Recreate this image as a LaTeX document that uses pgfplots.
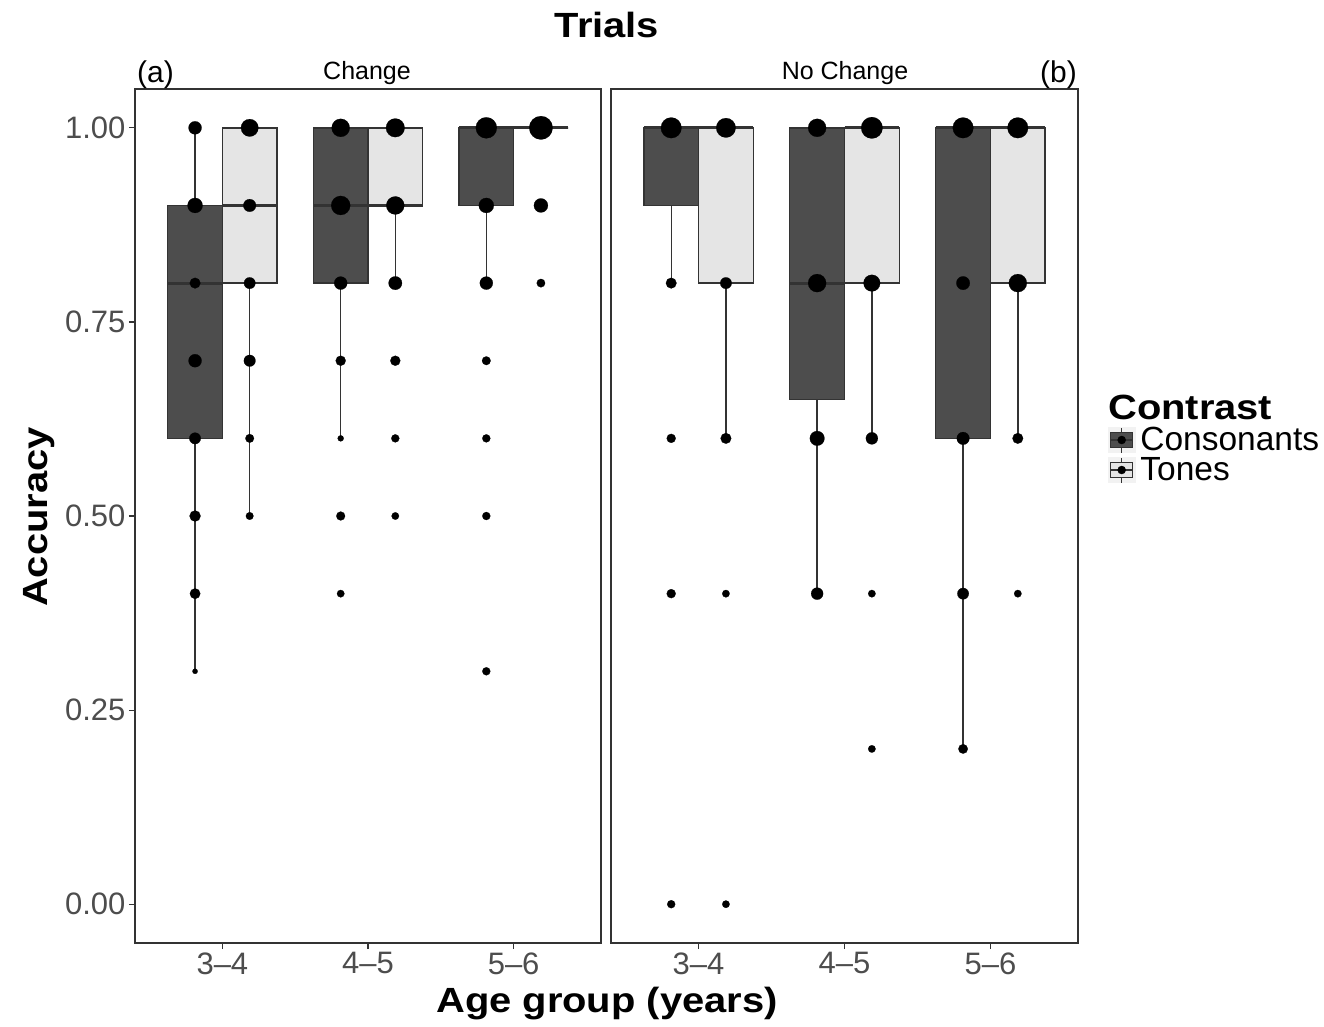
\documentclass[border=0pt]{standalone}
\usepackage{fontspec}
\setmainfont{Liberation Sans}
\newfontfamily\bt[FakeStretch=1.14]{Liberation Sans}
\usepackage{pgfplots}
\usepackage{pgfplotstable}
\usepgfplotslibrary{statistics}
\pgfplotsset{compat=1.18}

\definecolor{darkfill}{HTML}{4D4D4D}
\definecolor{lightfill}{HTML}{E5E5E5}
\definecolor{boxline}{HTML}{333333}
\definecolor{ticklab}{HTML}{4D4D4D}
\definecolor{keybg}{HTML}{F2F2F2}
\newcommand\fs[1]{\fontsize{#1bp}{#1bp}\selectfont}

% points: x position (dodged), accuracy, radius in bp (size ~ count)
\pgfplotstableread{
x y r
0.8125 1.0 6.5
0.8125 0.9 7.5
0.8125 0.8 5.3
0.8125 0.7 6.5
0.8125 0.6 5.7
0.8125 0.5 5.5
0.8125 0.4 5.2
0.8125 0.3 2.6
1.1875 1.0 8.7
1.1875 0.9 6.3
1.1875 0.8 5.7
1.1875 0.7 5.8
1.1875 0.6 4.3
1.1875 0.5 3.8
1.8125 1.0 9.0
1.8125 0.9 9.5
1.8125 0.8 6.5
1.8125 0.7 5.0
1.8125 0.6 3.0
1.8125 0.5 4.4
1.8125 0.4 3.7
2.1875 1.0 9.3
2.1875 0.9 9.0
2.1875 0.8 6.7
2.1875 0.7 5.0
2.1875 0.6 4.0
2.1875 0.5 3.7
2.8125 1.0 10.5
2.8125 0.9 7.5
2.8125 0.8 6.5
2.8125 0.7 4.3
2.8125 0.6 4.0
2.8125 0.5 4.0
2.8125 0.3 4.0
3.1875 1.0 11.7
3.1875 0.9 7.0
3.1875 0.8 4.2
}\ptsChange

\pgfplotstableread{
x y r
0.8125 1.0 10.3
0.8125 0.8 5.3
0.8125 0.6 4.5
0.8125 0.4 4.5
0.8125 0.0 4.0
1.1875 1.0 9.7
1.1875 0.8 5.7
1.1875 0.6 5.3
1.1875 0.4 3.7
1.1875 0.0 3.7
1.8125 1.0 9.0
1.8125 0.8 9.0
1.8125 0.6 7.3
1.8125 0.4 6.0
2.1875 1.0 10.7
2.1875 0.8 8.3
2.1875 0.6 6.0
2.1875 0.4 3.7
2.1875 0.2 3.7
2.8125 1.0 10.3
2.8125 0.8 6.7
2.8125 0.6 6.3
2.8125 0.4 5.7
2.8125 0.2 4.7
3.1875 1.0 10.3
3.1875 0.8 9.0
3.1875 0.6 5.3
3.1875 0.4 3.7
}\ptsNoChange

\pgfplotsset{
  panel/.style={scale only axis, width=466bp, height=854bp, anchor=south west,
    xmin=0.4, xmax=3.6, ymin=-0.05, ymax=1.05,
    xtick={1,2,3}, xticklabels={3–4,4–5,5–6}, xtick pos=bottom,
    tick align=outside, major tick length=6bp,
    tick style={draw=boxline, line width=1.2bp},
    axis line style={draw=boxline, line width=1.3bp},
    tick label style={font=\fs{31}, text=ticklab},
    boxplot/draw direction=y,
    /pgf/number format/assume math mode=true},
  cbox/.style={forget plot, draw=boxline, line width=1.4bp,
    boxplot/every box/.style={fill=darkfill},
    boxplot/every median/.style={line width=3bp}},
  tbox/.style={forget plot, draw=boxline, line width=1.4bp,
    boxplot/every box/.style={fill=lightfill},
    boxplot/every median/.style={line width=3bp}},
  pts/.style={forget plot, scatter, only marks, mark=*, point meta=\thisrow{r},
    scatter/use mapped color={draw=black, fill=black},
    every mark/.append style={line width=0.2bp},
    visualization depends on={\thisrow{r}\as\rad},
    scatter/@pre marker code/.append style={/tikz/mark size=\rad bp}},
}

\begin{document}
\begin{tikzpicture}
\path[use as bounding box] (0bp,0bp) rectangle (1324bp,-1027bp);

\begin{axis}[panel, at={(135bp,-943bp)},
  ytick={0,0.25,0.5,0.75,1}, ytick pos=left,
  yticklabel style={/pgf/number format/.cd, fixed, fixed zerofill, precision=2}]
\addplot[cbox, boxplot prepared={draw position=0.8125, box extend=0.375, whisker extend=0,
  lower whisker=0.3, lower quartile=0.6, median=0.8, upper quartile=0.9, upper whisker=1}] coordinates {};
\addplot[tbox, boxplot prepared={draw position=1.1875, box extend=0.375, whisker extend=0,
  lower whisker=0.5, lower quartile=0.8, median=0.9, upper quartile=1, upper whisker=1}] coordinates {};
\addplot[cbox, boxplot prepared={draw position=1.8125, box extend=0.375, whisker extend=0,
  lower whisker=0.6, lower quartile=0.8, median=0.9, upper quartile=1, upper whisker=1}] coordinates {};
\addplot[tbox, boxplot prepared={draw position=2.1875, box extend=0.375, whisker extend=0,
  lower whisker=0.8, lower quartile=0.9, median=0.9, upper quartile=1, upper whisker=1}] coordinates {};
\addplot[cbox, boxplot prepared={draw position=2.8125, box extend=0.375, whisker extend=0,
  lower whisker=0.8, lower quartile=0.9, median=1, upper quartile=1, upper whisker=1}] coordinates {};
\addplot[tbox, boxplot prepared={draw position=3.1875, box extend=0.375, whisker extend=0,
  lower whisker=1, lower quartile=1, median=1, upper quartile=1, upper whisker=1}] coordinates {};
\addplot[pts] table[x=x, y=y] {\ptsChange};
\end{axis}

\begin{axis}[panel, at={(611bp,-943bp)}, width=467bp, ytick=\empty,
  legend style={at={(axis description cs:1.0642,0.6042)}, anchor=north west,
    draw=none, fill=none, inner sep=0pt, outer sep=0pt, font=\fs{33.5},
    row sep=4bp, nodes={inner sep=0pt}, cells={anchor=west},
    /tikz/every odd column/.append style={column sep=5bp}}]
\addplot[cbox, boxplot prepared={draw position=0.8125, box extend=0.375, whisker extend=0,
  lower whisker=0.8, lower quartile=0.9, median=1, upper quartile=1, upper whisker=1}] coordinates {};
\addplot[tbox, boxplot prepared={draw position=1.1875, box extend=0.375, whisker extend=0,
  lower whisker=0.6, lower quartile=0.8, median=1, upper quartile=1, upper whisker=1}] coordinates {};
\addplot[cbox, boxplot prepared={draw position=1.8125, box extend=0.375, whisker extend=0,
  lower whisker=0.4, lower quartile=0.65, median=0.8, upper quartile=1, upper whisker=1}] coordinates {};
\addplot[tbox, boxplot prepared={draw position=2.1875, box extend=0.375, whisker extend=0,
  lower whisker=0.6, lower quartile=0.8, median=1, upper quartile=1, upper whisker=1}] coordinates {};
\addplot[cbox, boxplot prepared={draw position=2.8125, box extend=0.375, whisker extend=0,
  lower whisker=0.2, lower quartile=0.6, median=1, upper quartile=1, upper whisker=1}] coordinates {};
\addplot[tbox, boxplot prepared={draw position=3.1875, box extend=0.375, whisker extend=0,
  lower whisker=0.6, lower quartile=0.8, median=1, upper quartile=1, upper whisker=1}] coordinates {};
\addplot[pts] table[x=x, y=y] {\ptsNoChange};

\addlegendimage{legend image code/.code={
  \fill[keybg] (0bp,-12.5bp) rectangle (27bp,12.5bp);
  \draw[boxline, line width=1bp] (13.5bp,-12.5bp) -- (13.5bp,12.5bp);
  \filldraw[fill=darkfill, draw=boxline, line width=1bp] (2.5bp,-7.5bp) rectangle (24.5bp,7.5bp);
  \draw[boxline, line width=2bp] (2.5bp,0bp) -- (24.5bp,0bp);
  \fill[black] (13.5bp,0bp) circle[radius=4bp];}}
\addlegendentry{Consonants}
\addlegendimage{legend image code/.code={
  \fill[keybg] (0bp,-12.5bp) rectangle (27bp,12.5bp);
  \draw[boxline, line width=1bp] (13.5bp,-12.5bp) -- (13.5bp,12.5bp);
  \filldraw[fill=lightfill, draw=boxline, line width=1bp] (2.5bp,-7.5bp) rectangle (24.5bp,7.5bp);
  \draw[boxline, line width=2bp] (2.5bp,0bp) -- (24.5bp,0bp);
  \fill[black] (13.5bp,0bp) circle[radius=4bp];}}
\addlegendentry{Tones}
\end{axis}

\node[anchor=base, font=\bt\bfseries\fs{35}] at (607bp,-37bp) {Trials};
\node[anchor=base west, inner sep=0pt, font=\fs{30}] at (137bp,-82bp) {(a)};
\node[anchor=base, font=\fs{25}] at (367bp,-79bp) {Change};
\node[anchor=base, font=\fs{25}] at (845bp,-79bp) {No Change};
\node[anchor=base east, inner sep=0pt, font=\fs{30}] at (1077bp,-82bp) {(b)};
\node[anchor=base, font=\bt\bfseries\fs{35}] at (607bp,-1012bp) {Age group (years)};
\node[anchor=base, rotate=90, font=\bt\bfseries\fs{35}] at (47bp,-517bp) {Accuracy};
\node[anchor=base west, inner sep=0pt, font=\bt\bfseries\fs{35}] at (1108bp,-419bp) {Contrast};
\end{tikzpicture}
\end{document}
